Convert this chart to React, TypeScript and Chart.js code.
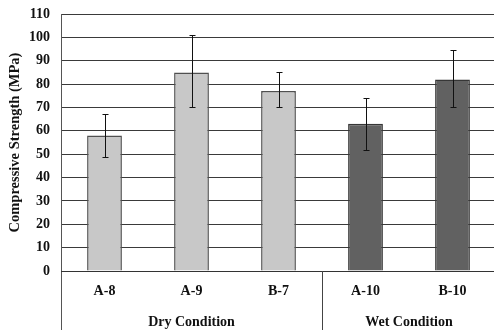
import React, { useEffect, useRef } from "react";
import { Chart, registerables } from "chart.js";

Chart.register(...registerables);

const categories = ["A-8", "A-9", "B-7", "A-10", "B-10"];
const strength = [58, 85, 77, 63, 82];
const errUpper = [67, 101, 85, 74, 94.5];
const errLower = [49, 70, 70, 52, 70];
const barColors = ["#c8c8c8", "#c8c8c8", "#c8c8c8", "#616161", "#616161"];
const borderColors = ["#505050", "#505050", "#505050", "#363636", "#363636"];
const groups = [
  { label: "Dry Condition", from: 0, to: 2 },
  { label: "Wet Condition", from: 3, to: 4 },
];
const yTicksMax = 110;
const yStep = 10;

const FONT = "'Liberation Serif', 'DejaVu Serif', serif";

const extrasPlugin = {
  id: "extras",
  afterDatasetsDraw(chart: any) {
    const ctx = chart.ctx;
    const x = chart.scales.x;
    const y = chart.scales.y;
    ctx.save();
    // error bars
    ctx.strokeStyle = "#111";
    ctx.lineWidth = 1;
    for (let i = 0; i < categories.length; i++) {
      const cx = Math.round(x.getPixelForValue(i)) + 0.5;
      const yt = Math.round(y.getPixelForValue(errUpper[i])) + 0.5;
      const yb = Math.round(y.getPixelForValue(errLower[i])) + 0.5;
      ctx.beginPath();
      ctx.moveTo(cx, yt);
      ctx.lineTo(cx, yb);
      ctx.moveTo(cx - 3, yt);
      ctx.lineTo(cx + 3, yt);
      ctx.moveTo(cx - 3, yb);
      ctx.lineTo(cx + 3, yb);
      ctx.stroke();
    }
    const area = chart.chartArea;
    const H = chart.height;
    // left axis line extended
    ctx.strokeStyle = "#555";
    ctx.beginPath();
    ctx.moveTo(Math.round(area.left) + 0.5, area.top);
    ctx.lineTo(Math.round(area.left) + 0.5, H);
    ctx.stroke();
    // bottom axis
    ctx.strokeStyle = "#333";
    ctx.beginPath();
    ctx.moveTo(area.left, Math.round(area.bottom) + 0.5);
    ctx.lineTo(area.right, Math.round(area.bottom) + 0.5);
    ctx.stroke();
    // group separators and labels
    ctx.fillStyle = "#111";
    ctx.font = "bold 14px " + FONT;
    ctx.textAlign = "center";
    ctx.textBaseline = "middle";
    groups.forEach((g, gi) => {
      const a = x.getPixelForValue(g.from);
      const b = x.getPixelForValue(g.to);
      ctx.fillText(g.label, (a + b) / 2, 322);
      if (gi > 0) {
        const sx = Math.round((a + x.getPixelForValue(g.from - 1)) / 2) + 0.5;
        ctx.strokeStyle = "#444";
        ctx.beginPath();
        ctx.moveTo(sx, area.bottom);
        ctx.lineTo(sx, H);
        ctx.stroke();
      }
    });
    ctx.restore();
  },
};

export default function App() {
  const ref = useRef<HTMLCanvasElement>(null);
  useEffect(() => {
    const chart = new Chart(ref.current as HTMLCanvasElement, {
      type: "bar",
      data: {
        labels: categories,
        datasets: [
          {
            data: strength,
            backgroundColor: barColors,
            borderColor: borderColors,
            borderWidth: 1.5,
            barPercentage: 0.4,
            categoryPercentage: 1,
          },
        ],
      },
      options: {
        responsive: false,
        animation: false,
        layout: { padding: { top: 14, left: 0, right: 1, bottom: 0 } },
        plugins: { legend: { display: false }, tooltip: { enabled: false } },
        scales: {
          x: {
            grid: { display: false, drawTicks: false },
            border: { display: false },
            ticks: {
              color: "#111",
              padding: 12,
              font: { family: FONT, size: 14, weight: "bold" },
            },
            afterFit(scale: any) {
              scale.height = 59;
              scale.paddingLeft = 0;
              scale.paddingRight = 0;
            },
          },
          y: {
            min: 0,
            max: yTicksMax,
            ticks: {
              stepSize: yStep,
              color: "#111",
              padding: 11,
              font: { family: FONT, size: 14, weight: "bold" },
            },
            grid: { color: "#3a3a3a", lineWidth: 1, drawTicks: false },
            border: { display: false },
            title: {
              display: true,
              text: "Compressive Strength (MPa)",
              color: "#111",
              padding: { top: 7, bottom: 0 },
              font: { family: FONT, size: 14.5, weight: "bold" },
            },
            afterFit(scale: any) {
              scale.width = 61;
              scale.paddingTop = 0;
              scale.paddingBottom = 0;
            },
          },
        },
      },
      plugins: [extrasPlugin],
    } as any);
    return () => chart.destroy();
  }, []);
  return (
    <div
      style={{
        position: "fixed",
        left: 0,
        top: 0,
        width: 494,
        height: 330,
        overflow: "hidden",
        background: "#fff",
      }}
    >
      <canvas ref={ref} width={497} height={330} style={{ display: "block" }} />
    </div>
  );
}
